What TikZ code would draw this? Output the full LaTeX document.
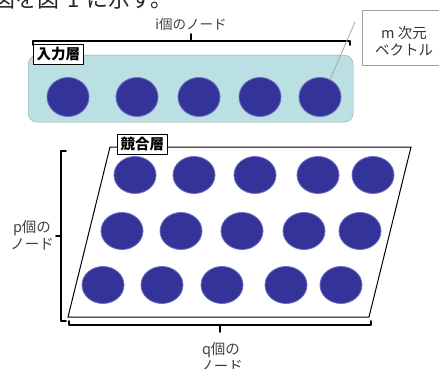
\documentclass[tikz,border=0pt]{standalone}
\usepackage{fontspec}
\newfontfamily\jp{Noto Sans CJK JP}
\usetikzlibrary{shapes.geometric}
\definecolor{nodeblue}{RGB}{51,51,153}
\definecolor{nodeedge}{RGB}{110,110,190}
\definecolor{layercyan}{RGB}{186,224,228}
\definecolor{layeredge}{RGB}{160,160,160}
\tikzset{
  unit/.style={ellipse, minimum width=42pt, minimum height=39pt, inner sep=0pt, fill=nodeblue, draw=nodeedge, line width=0.8pt},
  unitb/.style={unit, minimum height=37pt},
  brace/.style={line width=1.8pt, line cap=round, line join=round},
  tag/.style={draw, fill=white, line width=1pt, font=\jp\fontsize{14.5}{15}\selectfont\bfseries, inner sep=3pt, anchor=north west},
  lab/.style={font=\jp\fontsize{14.5}{17}\selectfont, align=center, text=black!75, inner sep=0pt}
}
\begin{document}
\begin{tikzpicture}[x=1pt,y=-1pt]
\useasboundingbox (0,0) rectangle (439,369);
\begin{scope}
\clip (0,0) rectangle (439,369);
\node[font=\jp\fontsize{22}{23}\selectfont, anchor=base west, inner sep=0pt, text=black!85] (top) at (-7,8) {図を図\hspace{8pt}1\hspace{7pt}に示す。};
% top bracket
\coordinate (tl) at (33,45);
\coordinate (tr) at (350,45);
\coordinate (tm) at (191,41);
\draw[brace] (tl) -- (33,41) -- (350,41) -- (tr);
\draw[brace] (tm) -- (191,34);
\node[lab, font=\jp\fontsize{13.5}{16}\selectfont] (ilab) at (191,24) {i個のノード};
% input layer
\node[draw=layeredge, fill=layercyan, rounded corners=9pt, minimum width=325pt, minimum height=67pt, anchor=north west, inner sep=0pt] (inlayer) at (28,55) {};
\node[tag] (intag) at (33,44) {入力層};
\foreach \i/\x in {1/68,2/137,3/199,4/260,5/320}{
  \node[unit] (in\i) at (\x,97) {};
}
% callout
\node[draw=layeredge, fill=white, minimum width=84pt, minimum height=55pt, anchor=north west, inner sep=0pt] (call) at (362,10) {};
\node[lab, text=black!80] (calltext) at (404,41) {m 次元\\ベクトル};
\coordinate (callend) at (355,22);
\draw[black!35, line width=0.8pt] (in5.60) -- (callend);
% competitive layer
\coordinate (p1) at (110,147);
\coordinate (p2) at (411,147);
\coordinate (p3) at (369,317);
\coordinate (p4) at (68,317);
\draw[line width=1pt, fill=white] (p1) -- (p2) -- (p3) -- (p4) -- cycle;
\node[tag] (ctag) at (117,134) {競合層};
\foreach \i/\x in {1/135,2/194,3/255,4/318,5/373}{
  \node[unitb] (a\i) at (\x,175) {};
}
\foreach \i/\x in {1/122,2/181,3/242,4/304,5/360}{
  \node[unitb] (b\i) at (\x,231) {};
}
\foreach \i/\x in {1/103,2/162,3/222,4/286,5/341}{
  \node[unitb] (c\i) at (\x,285) {};
}
% left bracket
\coordinate (lt) at (66,151);
\coordinate (lb) at (66,321);
\draw[brace] (lt) -- (61,151) -- (61,321) -- (lb);
\draw[brace] (61,236) -- (56,236);
\node[lab] (plab) at (32,235) {p個の\\ノード};
% bottom bracket
\coordinate (bl) at (69,321);
\coordinate (br) at (371,321);
\draw[brace] (bl) -- (69,325) -- (371,325) -- (br);
\draw[brace] (220,325) -- (220,332);
\node[lab, anchor=north] (qlab) at (221,342) {q個の\\ノード};
\end{scope}
\end{tikzpicture}
\end{document}
